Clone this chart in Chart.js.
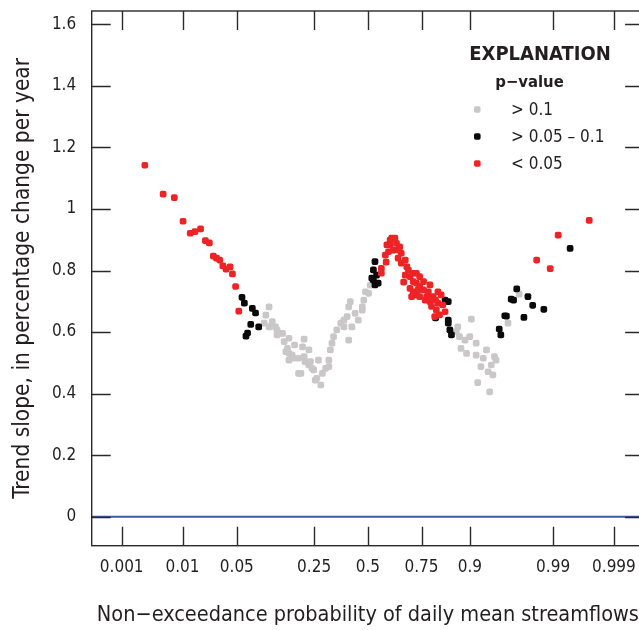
<!DOCTYPE html>
<html><head><meta charset="utf-8">
<script src="https://cdn.jsdelivr.net/npm/chart.js@4.4.1/dist/chart.umd.min.js"></script>
<style>
html,body{margin:0;padding:0;background:#fff;overflow:hidden;width:639px;height:630px}
#wrap{position:absolute;left:0;top:0;width:648px;height:630px}
</style></head>
<body><div id="wrap"><canvas id="c" width="648" height="630"></canvas></div>
<script>
// ---- data (x = standard normal score of non-exceedance probability, y = trend slope, %/yr)
const probTicks = [0.001, 0.01, 0.05, 0.25, 0.5, 0.75, 0.9, 0.99, 0.999];
const probTickLabels = ['0.001', '0.01', '0.05', '0.25', '0.5', '0.75', '0.9', '0.99', '0.999'];
const yTicks = [0, 0.2, 0.4, 0.6, 0.8, 1, 1.2, 1.4, 1.6];
const yTickLabels = ['0', '0.2', '0.4', '0.6', '0.8', '1', '1.2', '1.4', '1.6'];

const redPoints = [
[-2.80,1.142],[-2.57,1.048],[-2.43,1.037],[-2.32,0.960],[-2.23,0.921],[-2.17,0.926],[-2.10,0.935],[-2.04,0.897],[-1.99,0.890],[-1.94,0.847],[-1.90,0.840],[-1.86,0.834],[-1.82,0.815],[-1.78,0.804],[-1.73,0.812],[-1.70,0.789],[-1.66,0.748],[-1.62,0.668],
[0.17,0.807],[0.17,0.791],[0.22,0.850],[0.26,0.861],[0.24,0.883],[0.28,0.899],[0.30,0.905],[0.34,0.905],[0.36,0.888],[0.40,0.877],[0.42,0.856],[0.47,0.834],[0.49,0.812],[0.47,0.785],[0.53,0.780],[0.57,0.791],[0.61,0.791],[0.65,0.780],[0.70,0.764],[0.61,0.759],[0.53,0.742],[0.57,0.731],[0.61,0.721],[0.55,0.715],[0.65,0.715],[0.70,0.737],[0.76,0.731],[0.72,0.704],[0.78,0.699],[0.82,0.715],[0.88,0.731],[0.92,0.721],[0.88,0.694],[0.86,0.672],[0.84,0.650],[0.90,0.656],[0.97,0.666],[0.38,0.867],[0.42,0.824],[0.57,0.764],[0.65,0.748],[0.74,0.715],[0.80,0.683],
[0.28,0.883],[0.23,0.827],[0.32,0.866],[0.38,0.840],[0.51,0.801],[0.45,0.762],[0.63,0.737],[0.78,0.753],[0.85,0.704],[0.94,0.688],
[2.12,0.834],[2.29,0.806],[2.39,0.915],[2.78,0.963]
];
const blackPoints = [
[-1.58,0.713],[-1.55,0.694],[-1.45,0.677],[-1.41,0.662],[-1.47,0.625],[-1.37,0.617],[-1.51,0.597],[-1.53,0.587],
[0.09,0.829],[0.07,0.802],[0.05,0.775],[0.09,0.753],[0.13,0.759],[0.11,0.785],[0.07,0.769],
[0.97,0.704],[1.01,0.699],[1.01,0.639],[1.03,0.607],[1.05,0.591],[1.01,0.629],[0.85,0.646],
[1.87,0.740],[1.80,0.707],[1.83,0.704],[2.01,0.715],[2.07,0.687],[2.21,0.674],[1.72,0.653],[1.74,0.652],[1.96,0.648],[1.65,0.610],[1.67,0.591],[2.54,0.872]
];
const grayPoints = [
[-1.24,0.682],[-1.28,0.655],[-1.30,0.629],[-1.20,0.634],[-1.24,0.617],[-1.14,0.607],[-1.07,0.596],[-0.99,0.580],[-0.80,0.577],[-1.03,0.536],[-0.95,0.525],[-0.87,0.515],[-0.79,0.504],[-0.74,0.493],[-0.87,0.466],[-0.68,0.477],[-0.66,0.444],[-0.99,0.509],[-0.82,0.552],
[-1.16,0.617],[-1.14,0.591],[-1.09,0.596],[-1.05,0.569],[-1.01,0.547],[-0.99,0.531],[-0.93,0.515],[-0.80,0.520],[-0.72,0.504],[-0.70,0.482],[-0.64,0.450],[-0.59,0.428],[-0.57,0.466],[-0.53,0.482],[-0.49,0.509],[-0.47,0.542],[-0.49,0.488],[-0.45,0.564],[-0.43,0.585],[-0.39,0.607],[-0.34,0.629],[-0.30,0.639],[-0.26,0.650],[-0.24,0.682],[-0.22,0.699],[-0.16,0.661],[-0.12,0.639],[-0.07,0.682],[-0.05,0.704],[-0.03,0.731],[0.01,0.726],[-0.24,0.574],[-0.20,0.617],[-0.30,0.617],[-0.84,0.466],[-0.62,0.509],[-0.74,0.542],[-0.92,0.558],[-0.07,0.671],[0.03,0.752],
[1.30,0.642],[1.13,0.617],[1.11,0.601],[1.15,0.585],[1.22,0.574],[1.28,0.585],[1.36,0.564],[1.17,0.547],[1.24,0.531],[1.36,0.525],[1.49,0.542],[1.45,0.515],[1.59,0.520],[1.61,0.509],[1.42,0.488],[1.55,0.493],[1.51,0.471],[1.57,0.461],[1.38,0.436],[1.53,0.406],[1.76,0.629],[1.90,0.723]
];
const zeroLine = [[-3.467, 0], [3.469, 0]];

// ---- helpers
function normInv(p) {
  const a=[-39.69683028665376,220.9460984245205,-275.9285104469687,138.3577518672690,-30.66479806614716,2.506628277459239];
  const b=[-54.47609879822406,161.5858368580409,-155.6989798598866,66.80131188771972,-13.28068155288572];
  const c=[-0.007784894002430293,-0.3223964580411365,-2.400758277161838,-2.549732539343734,4.374664141464968,2.938163982698783];
  const d=[0.007784695709041462,0.3224671290700398,2.445134137142996,3.754408661907416];
  const pl=0.02425, ph=1-pl; let q,r;
  if (p<pl){q=Math.sqrt(-2*Math.log(p));return (((((c[0]*q+c[1])*q+c[2])*q+c[3])*q+c[4])*q+c[5])/((((d[0]*q+d[1])*q+d[2])*q+d[3])*q+1);}
  if (p<=ph){q=p-0.5;r=q*q;return (((((a[0]*r+a[1])*r+a[2])*r+a[3])*r+a[4])*r+a[5])*q/(((((b[0]*r+b[1])*r+b[2])*r+b[3])*r+b[4])*r+1);}
  q=Math.sqrt(-2*Math.log(1-p));return -(((((c[0]*q+c[1])*q+c[2])*q+c[3])*q+c[4])*q+c[5])/((((d[0]*q+d[1])*q+d[2])*q+d[3])*q+1);
}
const toXY = arr => arr.map(([x, y]) => ({x, y}));
const FONT = "'Liberation Sans Narrow', 'DejaVu Sans Condensed', 'Arial Narrow', sans-serif";
const TXT = '#231f20';
const RED = '#ee2326', BLACK = '#0a0a0a', GRAY = '#c9c7c7', BLUE = '#3d5aa8';

const framePlugin = {
  id: 'frame',
  afterDatasetsDraw(chart) {
    const {ctx, chartArea: a, scales: {x, y}} = chart;
    ctx.save();
    ctx.strokeStyle = '#2a2a2a';
    ctx.lineWidth = 1.4;
    ctx.strokeRect(a.left, a.top, a.right - a.left, a.bottom - a.top);
    const L = 19;
    ctx.beginPath();
    x.ticks.forEach(t => {
      const px = Math.round(x.getPixelForValue(t.value)) + 0.5;
      ctx.moveTo(px, a.bottom); ctx.lineTo(px, a.bottom - L);
      ctx.moveTo(px, a.top); ctx.lineTo(px, a.top + L);
    });
    y.ticks.forEach(t => {
      const py = Math.round(y.getPixelForValue(t.value)) + 0.5;
      ctx.moveTo(a.left, py); ctx.lineTo(a.left + L, py);
      ctx.moveTo(a.right, py); ctx.lineTo(a.right - L, py);
    });
    ctx.stroke();
    ctx.restore();
  }
};

const legendPlugin = {
  id: 'explanation',
  afterDraw(chart) {
    const ctx = chart.ctx;
    ctx.save();
    ctx.fillStyle = TXT;
    ctx.textBaseline = 'middle';
    ctx.textAlign = 'center';
    ctx.font = `bold 20px ${FONT}`;
    ctx.fillText('EXPLANATION', 540, 55);
    ctx.font = `bold 16.5px ${FONT}`;
    ctx.fillText('p\u2212value', 529.5, 83);
    const items = [[GRAY, '> 0.1', 109.5], [BLACK, '> 0.05 \u2013 0.1', 136.5], [RED, '< 0.05', 163.5]];
    ctx.textAlign = 'left';
    ctx.font = `17px ${FONT}`;
    items.forEach(([col, label, yy]) => {
      ctx.fillStyle = col;
      ctx.beginPath();
      ctx.roundRect(474, yy - 3.3, 6.6, 6.6, 1.8);
      ctx.fill();
      ctx.fillStyle = TXT;
      ctx.fillText(label, 511, yy + 1);
    });
    ctx.restore();
  }
};

const ptOpts = col => ({
  backgroundColor: col, borderColor: col, borderWidth: 0,
  pointStyle: 'rectRounded', pointRadius: 3.9, pointHoverRadius: 3.9
});

new Chart(document.getElementById('c'), {
  type: 'scatter',
  data: {
    datasets: [
      Object.assign({label: '< 0.05', data: toXY(redPoints)}, ptOpts(RED)),
      Object.assign({label: '> 0.05 – 0.1', data: toXY(blackPoints)}, ptOpts(BLACK)),
      Object.assign({label: '> 0.1', data: toXY(grayPoints)}, ptOpts(GRAY)),
      {type: 'line', label: 'zero', data: toXY(zeroLine), borderColor: BLUE, borderWidth: 2, pointRadius: 0, showLine: true}
    ]
  },
  options: {
    responsive: false, animation: false, devicePixelRatio: 1,
    layout: {padding: {top: 11, right: 1, left: 0, bottom: 0}},
    plugins: {legend: {display: false}, tooltip: {enabled: false}},
    scales: {
      x: {
        type: 'linear', min: -3.467, max: 3.469,
        afterBuildTicks: s => { s.ticks = probTicks.map(p => ({value: normInv(p)})); },
        afterFit: s => { s.height = 84.3; s.paddingLeft = 0; s.paddingRight = 0; },
        grid: {display: false, drawTicks: false},
        border: {display: false},
        ticks: {autoSkip: false, maxRotation: 0, padding: 12, color: TXT,
          font: {family: FONT, size: 17}, callback: (v, i) => probTickLabels[i]},
        title: {display: true, text: 'Non\u2212exceedance probability of daily mean streamflows', color: TXT,
          font: {family: FONT, size: 21.5}, padding: {top: 0, bottom: 2}}
      },
      y: {
        type: 'linear', min: -0.094, max: 1.643,
        afterBuildTicks: s => { s.ticks = yTicks.map(v => ({value: v})); },
        afterFit: s => { s.width = 91.7; s.paddingTop = 0; s.paddingBottom = 0; },
        grid: {display: false, drawTicks: false},
        border: {display: false},
        ticks: {padding: 15.5, color: TXT, font: {family: FONT, size: 17}, callback: (v, i) => yTickLabels[i]},
        title: {display: true, text: 'Trend slope, in percentage change per year', color: TXT,
          font: {family: FONT, size: 22.5}, padding: {top: 10, bottom: 0}}
      }
    }
  },
  plugins: [framePlugin, legendPlugin]
});
</script></body></html>
